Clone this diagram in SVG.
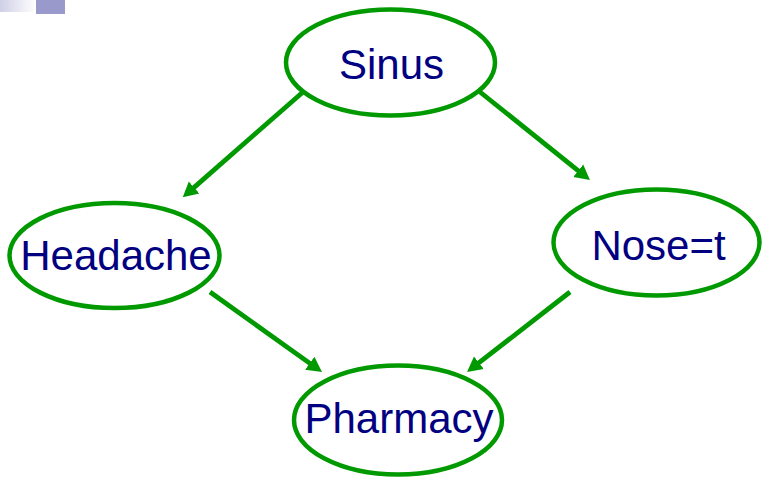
<svg xmlns="http://www.w3.org/2000/svg" width="762" height="479" viewBox="0 0 762 479">
  <defs>
    <linearGradient id="fade" x1="0" y1="0" x2="1" y2="0">
      <stop offset="0" stop-color="#cfcfe6"/>
      <stop offset="1" stop-color="#ffffff"/>
    </linearGradient>
    <marker id="arrow" markerUnits="userSpaceOnUse" markerWidth="18" markerHeight="18" viewBox="0 -9 18 18" refX="1" refY="0" orient="auto">
      <path d="M0,-8 L15,0 L0,8 z" fill="#009900"/>
    </marker>
  </defs>
  <style>
    .node ellipse { fill: #ffffff; stroke: #009900; stroke-width: 4.5; }
    .node text { font-family: "Liberation Sans", Arial, sans-serif; font-size: 42px; fill: #000080; text-anchor: middle; }
    .edge { stroke: #009900; stroke-width: 4.8; fill: none; marker-end: url(#arrow); }
  </style>
  <rect x="0" y="0" width="762" height="479" fill="#ffffff"/>
  <rect x="0" y="0" width="36" height="12" fill="url(#fade)"/>
  <rect x="36" y="0" width="29" height="14" fill="#9999cc"/>

  <g id="connectors">
    <line class="edge" x1="303" y1="92" x2="193.3" y2="188.1"/>
    <line class="edge" x1="480" y1="92" x2="579" y2="171.3"/>
    <line class="edge" x1="210" y1="292" x2="310.6" y2="363.9"/>
    <line class="edge" x1="570" y1="292" x2="478.1" y2="363.4"/>
  </g>

  <g id="sinus" class="node">
    <ellipse cx="390.5" cy="62.5" rx="104.5" ry="53"/>
    <text x="391.5" y="79">Sinus</text>
  </g>
  <g id="headache" class="node">
    <ellipse cx="114.5" cy="255.5" rx="105" ry="52.5"/>
    <text x="116" y="270">Headache</text>
  </g>
  <g id="nose" class="node">
    <ellipse cx="656.5" cy="242.5" rx="103" ry="53"/>
    <text x="658.5" y="260">Nose=t</text>
  </g>
  <g id="pharmacy" class="node">
    <ellipse cx="398" cy="420" rx="104" ry="54.5"/>
    <text x="399" y="433">Pharmacy</text>
  </g>
</svg>
